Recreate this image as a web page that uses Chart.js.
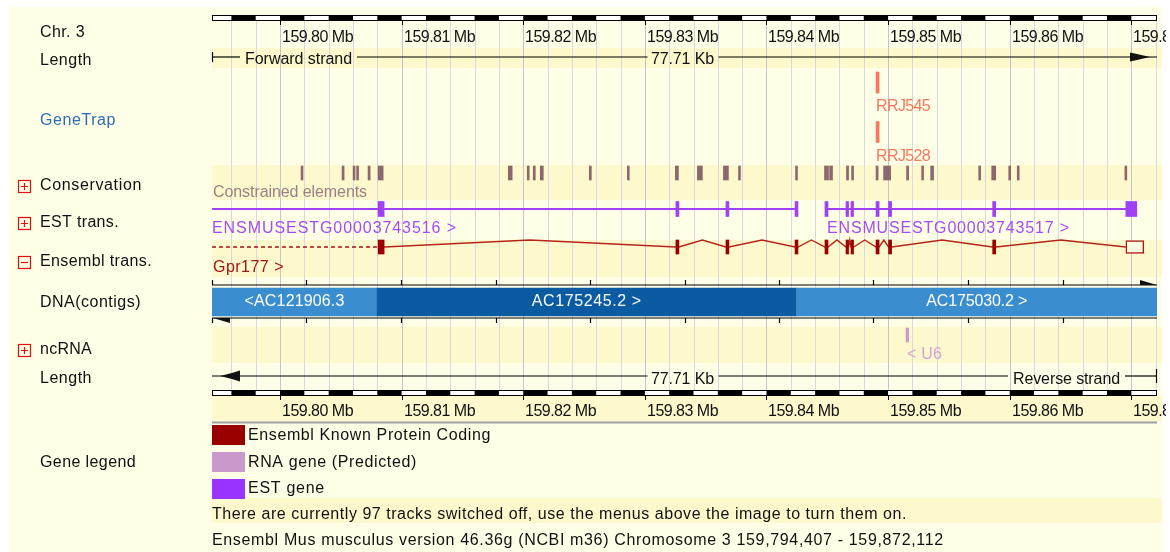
<!DOCTYPE html>
<html>
<head>
<meta charset="utf-8">
<script src="https://cdn.jsdelivr.net/npm/chart.js@4.4.1/dist/chart.umd.min.js"></script>
<style>
  html, body { margin: 0; padding: 0; background: #fff; }
  canvas { display: block; }
</style>
</head>
<body>
<canvas id="genome" width="1170" height="552"></canvas>
<script>
// region on chromosome 3, in Mb
var regionStart = 159.794407;
var regionEnd = 159.872112;

var rulerTicks = [159.80, 159.81, 159.82, 159.83, 159.84, 159.85, 159.86, 159.87];
var rulerLabels = ["159.80 Mb", "159.81 Mb", "159.82 Mb", "159.83 Mb", "159.84 Mb", "159.85 Mb", "159.86 Mb", "159.87 Mb"];

var trackLabels = ["Chr. 3", "Length", "GeneTrap", "Conservation", "EST trans.", "Ensembl trans.", "DNA(contigs)", "ncRNA", "Length", "Gene legend"];
var trackToggles = ["", "", "", "+", "+", "-", "", "+", "", ""];

var geneTrapNames = ["RRJ545", "RRJ528"];
var geneTrapStarts = [159.84901, 159.84901];
var geneTrapEnds = [159.84926, 159.84926];

var constrainedStarts = [159.80173, 159.80510, 159.80601, 159.80630, 159.80724, 159.80807, 159.81877, 159.82033, 159.82082, 159.82140,
  159.82543, 159.82856, 159.83251, 159.83432, 159.83646, 159.83770, 159.84239, 159.84477, 159.84519, 159.84658,
  159.84700, 159.84901, 159.84963, 159.85152, 159.85276, 159.85350, 159.85745, 159.85852, 159.85992, 159.86062, 159.86947];
var constrainedEnds = [159.80189, 159.80527, 159.80617, 159.80646, 159.80741, 159.80848, 159.81909, 159.82049, 159.82099, 159.82165,
  159.82560, 159.82872, 159.83276, 159.83473, 159.83687, 159.83786, 159.84255, 159.84510, 159.84543, 159.84675,
  159.84716, 159.84918, 159.85021, 159.85169, 159.85292, 159.85374, 159.85761, 159.85885, 159.86008, 159.86078, 159.86963];

var estNames = ["ENSMUSESTG00003743516 >", "ENSMUSESTG00003743517 >"];
var est516Starts = [159.80807, 159.83255, 159.83667, 159.84235];
var est516Ends = [159.80856, 159.83280, 159.83691, 159.84259];
var est517Starts = [159.84481, 159.84654, 159.84695, 159.84901, 159.85004, 159.85860, 159.86955];
var est517Ends = [159.84506, 159.84675, 159.84716, 159.84926, 159.85029, 159.85885, 159.87045];

var ensemblName = "Gpr177 >";
var ensemblExonStarts = [159.80807, 159.83255, 159.83667, 159.84235, 159.84481, 159.84654, 159.84695, 159.84901, 159.85004, 159.85860];
var ensemblExonEnds = [159.80856, 159.83280, 159.83691, 159.84259, 159.84506, 159.84675, 159.84716, 159.84926, 159.85029, 159.85885];
var ensemblUtrStart = 159.86955;
var ensemblUtrEnd = 159.87103;

var contigNames = ["<AC121906.3", "AC175245.2 >", "AC175030.2 >"];
var contigStarts = [159.794407, 159.807984, 159.842469];
var contigEnds = [159.807984, 159.842469, 159.872112];

var ncrnaName = "< U6";
var ncrnaStart = 159.85148;
var ncrnaEnd = 159.85169;

var legendNames = ["Ensembl Known Protein Coding", "RNA gene (Predicted)", "EST gene"];
var legendColors = ["#990000", "#cc99cc", "#9933ff"];

var footerLines = [
  "There are currently 97 tracks switched off, use the menus above the image to turn them on.",
  "Ensembl Mus musculus version 46.36g (NCBI m36) Chromosome 3 159,794,407 - 159,872,112"
];

// layout (pixels) and styling
var layout = {
  panelLeft: 9, panelTop: 7, panelRight: 1162, labelClip: 1166,
  labelX: 40, boxX: 18,
  labelRows: [33, 61, 121, 186, 223, 262, 303, 350, 379, 463],
  labelWidths: [45, 52, 76, 102, 79, 112, 101, 52, 52, 96],
  rulerTop: 15, rulerBottom: 390, rulerH: 6,
  tickLabelTop: 38, tickLabelBottom: 412,
  lengthTop: 57, lengthBottom: 376,
  geneTrapRows: [82.5, 132], geneTrapLabelRows: [107, 157],
  conservation: 173, constrainedLabel: 193,
  est: 209, estLabel: 229,
  ensembl: 247, ensemblPeak: 240, ensemblLabel: 268,
  contig: 302, strandTop: 285, strandBottom: 318,
  ncrna: 335, ncrnaLabel: 355,
  stripes: [[48, 68], [165, 200], [240, 277], [327, 363], [396, 421], [498, 523]],
  legendBoxes: [425, 452, 479], legendRows: [436, 463, 489],
  footerRows: [515, 541]
};

var FONT = '"Liberation Sans", Arial, sans-serif';

function bars(starts, ends, row) {
  return starts.map(function (s, i) { return { x: [s, ends[i]], y: row }; });
}

function hatPoints(starts, ends, base, peak) {
  var pts = [];
  for (var i = 0; i < starts.length - 1; i++) {
    pts.push({ x: ends[i], y: base });
    pts.push({ x: (ends[i] + starts[i + 1]) / 2, y: peak });
    pts.push({ x: starts[i + 1], y: base });
  }
  return pts;
}

function fitText(ctx, text, x, y, w, align) {
  ctx.save();
  if ("letterSpacing" in ctx) ctx.letterSpacing = "0px";
  var m = ctx.measureText(text).width;
  var left = align === "center" ? x - w / 2 : x;
  ctx.textAlign = "left";
  if ("letterSpacing" in ctx) {
    var sp = Math.max(-1, Math.min(4, (w - m) / text.length));
    ctx.letterSpacing = sp.toFixed(2) + "px";
    ctx.fillText(text, left, y);
  } else {
    ctx.translate(left, y);
    ctx.scale(w / m, 1);
    ctx.fillText(text, 0, 0);
  }
  ctx.restore();
}

var allEnsemblStarts = ensemblExonStarts.concat([ensemblUtrStart]);
var allEnsemblEnds = ensemblExonEnds.concat([ensemblUtrEnd]);

var backdrop = {
  id: "backdrop",
  beforeDraw: function (chart) {
    var c = chart.ctx, x = chart.scales.x, a = chart.chartArea;
    c.save();
    c.fillStyle = "#ffffff";
    c.fillRect(0, 0, chart.width, chart.height);
    c.fillStyle = "#fffee6";
    c.fillRect(layout.panelLeft, layout.panelTop, layout.panelRight - layout.panelLeft, chart.height - layout.panelTop);
    c.fillStyle = "#fdf9cc";
    layout.stripes.forEach(function (s) {
      c.fillRect(a.left, s[0], layout.panelRight - a.left, s[1] - s[0]);
    });
    // grid every 2 kb
    for (var k = 159796; k <= 159872; k += 2) {
      var px = Math.round(x.getPixelForValue(k / 1000)) + 0.5;
      c.strokeStyle = k % 10 === 0 ? "#c4c4cc" : "#d8d8de";
      c.lineWidth = 1;
      c.beginPath();
      c.moveTo(px, layout.rulerTop + layout.rulerH);
      c.lineTo(px, layout.rulerBottom);
      c.stroke();
    }
    c.restore();
  },
  afterDatasetsDraw: function (chart) {
    var c = chart.ctx, x = chart.scales.x, a = chart.chartArea;
    var L = a.left, R = a.right;
    var ink = "#111111";
    c.save();
    c.font = "16px " + FONT;
    c.textBaseline = "middle";

    // rulers
    [layout.rulerTop, layout.rulerBottom].forEach(function (top, r) {
      c.fillStyle = "#ffffff";
      c.fillRect(L, top, R - L, layout.rulerH);
      c.fillStyle = "#000000";
      for (var k = 159794; k < 159872; k += 2) {
        if ((k / 2) % 2 !== 0) continue;
        var x1 = Math.max(L, x.getPixelForValue(k / 1000));
        var x2 = Math.min(R, x.getPixelForValue((k + 2) / 1000));
        c.fillRect(x1, top, x2 - x1, layout.rulerH);
      }
      c.strokeStyle = "#000";
      c.lineWidth = 1;
      c.strokeRect(L + 0.5, top + 0.5, R - L - 1, layout.rulerH - 1);
      var labelY = r === 0 ? layout.tickLabelTop : layout.tickLabelBottom;
      c.save();
      c.beginPath();
      c.rect(0, 0, layout.labelClip, chart.height);
      c.clip();
      rulerTicks.forEach(function (t, i) {
        var px = Math.round(x.getPixelForValue(t)) + 0.5;
        c.beginPath();
        c.moveTo(px, top + layout.rulerH);
        c.lineTo(px, top + layout.rulerH + 4);
        c.stroke();
        c.fillStyle = ink;
        fitText(c, rulerLabels[i], px + 1.5, labelY, 71, "left");
      });
      c.restore();
    });

    // length rows
    var mid = x.getPixelForValue((regionStart + regionEnd) / 2);
    c.strokeStyle = "#000";
    c.fillStyle = ink;
    c.lineWidth = 1.2;
    function hline(y, x1, x2) { c.beginPath(); c.moveTo(x1, y); c.lineTo(x2, y); c.stroke(); }
    var yT = layout.lengthTop;
    hline(yT, L, 240); hline(yT, 357, mid - 37); hline(yT, mid + 34, R);
    c.beginPath(); c.moveTo(L + 0.5, yT - 5); c.lineTo(L + 0.5, yT + 5); c.stroke();
    c.beginPath();
    c.moveTo(R - 27, yT - 4.5); c.lineTo(R - 20, yT - 3); c.lineTo(R - 7, yT);
    c.lineTo(R - 20, yT + 3); c.lineTo(R - 27, yT + 4.5); c.closePath(); c.fill();
    fitText(c, "Forward strand", 245, yT + 3, 107, "left");
    fitText(c, "77.71 Kb", mid - 2, yT + 3, 63, "center");

    var yB = layout.lengthBottom;
    hline(yB, L, mid - 37); hline(yB, mid + 34, 1008); hline(yB, 1125, R);
    c.beginPath(); c.moveTo(R - 0.5, yB - 7); c.lineTo(R - 0.5, yB + 7); c.stroke();
    c.beginPath();
    c.moveTo(L + 28, yB - 5.5); c.lineTo(L + 28, yB + 5.5); c.lineTo(L + 20, yB + 3);
    c.lineTo(L + 8, yB); c.lineTo(L + 20, yB - 3); c.closePath(); c.fill();
    fitText(c, "77.71 Kb", mid - 2, yB + 4, 63, "center");
    fitText(c, "Reverse strand", 1013, yB + 4, 107, "left");

    // contig strand lines
    c.lineWidth = 1.2;
    hline(layout.strandTop, L, R);
    hline(layout.strandBottom, L, R);
    for (var k = 0; k < 10; k++) {
      var tx = Math.round(x.getPixelForValue(regionStart + k * (regionEnd - regionStart) / 10)) + 0.5;
      c.beginPath(); c.moveTo(tx, layout.strandTop - 5); c.lineTo(tx, layout.strandTop); c.stroke();
      c.beginPath(); c.moveTo(tx, layout.strandBottom); c.lineTo(tx, layout.strandBottom + 5); c.stroke();
    }
    c.beginPath();
    c.moveTo(R - 17, layout.strandTop - 5); c.lineTo(R, layout.strandTop); c.lineTo(R - 17, layout.strandTop); c.closePath(); c.fill();
    c.beginPath();
    c.moveTo(L + 1, layout.strandBottom); c.lineTo(L + 18, layout.strandBottom); c.lineTo(L + 18, layout.strandBottom + 5); c.closePath(); c.fill();

    // feature labels
    c.fillStyle = "#f47a62";
    geneTrapNames.forEach(function (n, i) {
      fitText(c, n, x.getPixelForValue(geneTrapStarts[i]), layout.geneTrapLabelRows[i], 54, "left");
    });
    c.fillStyle = "#9c8088";
    fitText(c, "Constrained elements", L + 1, layout.constrainedLabel, 154, "left");
    c.fillStyle = "#a54cf7";
    fitText(c, estNames[0], L, layout.estLabel, 245, "left");
    fitText(c, estNames[1], x.getPixelForValue(est517Starts[0]) + 2, layout.estLabel, 243, "left");
    c.fillStyle = "#a01414";
    fitText(c, ensemblName, L + 1, layout.ensemblLabel, 71, "left");
    c.fillStyle = "#ffffff";
    contigNames.forEach(function (n, i) {
      var cx = x.getPixelForValue((contigStarts[i] + contigEnds[i]) / 2);
      fitText(c, n, cx, layout.contig, [100, 110, 101][i], "center");
    });
    c.fillStyle = "#d8a2d8";
    fitText(c, ncrnaName, x.getPixelForValue(ncrnaStart) + 1, layout.ncrnaLabel, 35, "left");

    // left track labels
    trackLabels.forEach(function (t, i) {
      var y = layout.labelRows[i];
      c.fillStyle = t === "GeneTrap" ? "#2e6db4" : ink;
      fitText(c, t, layout.labelX, y, layout.labelWidths[i], "left");
      var tg = trackToggles[i];
      if (tg) {
        c.strokeStyle = "#e01010";
        c.lineWidth = 1.2;
        c.strokeRect(layout.boxX + 0.5, y - 5.5, 12, 12);
        c.beginPath();
        c.moveTo(layout.boxX + 3, y + 0.5); c.lineTo(layout.boxX + 10, y + 0.5);
        if (tg === "+") { c.moveTo(layout.boxX + 6.5, y - 3); c.lineTo(layout.boxX + 6.5, y + 4); }
        c.stroke();
      }
    });

    // legend
    c.strokeStyle = "#a0a0a0";
    c.lineWidth = 2;
    hline(422.5, L, R);
    legendNames.forEach(function (n, i) {
      c.fillStyle = legendColors[i];
      c.fillRect(L, layout.legendBoxes[i], 33, 20);
      c.fillStyle = ink;
      fitText(c, n, L + 36, layout.legendRows[i], [243, 169, 77][i], "left");
    });
    footerLines.forEach(function (t, i) {
      fitText(c, t, L, layout.footerRows[i], [695, 732][i], "left");
    });
    c.restore();
  }
};

var barBase = { type: "bar", indexAxis: "y", grouped: false, borderWidth: 0, borderSkipped: false };

var genomeChart = new Chart(document.getElementById("genome").getContext("2d"), {
  type: "bar",
  data: {
    datasets: [
      Object.assign({}, barBase, {
        label: "EST exons",
        data: bars(est516Starts.concat(est517Starts), est516Ends.concat(est517Ends), layout.est),
        backgroundColor: "#a040f8", barThickness: 15
      }),
      Object.assign({}, barBase, {
        label: "Ensembl exons",
        data: bars(ensemblExonStarts, ensemblExonEnds, layout.ensembl),
        backgroundColor: "#990000", barThickness: 14
      }),
      Object.assign({}, barBase, {
        label: "Ensembl UTR",
        data: bars([ensemblUtrStart], [ensemblUtrEnd], layout.ensembl),
        backgroundColor: "#fffde0", borderColor: "#a81a1a", borderWidth: 1.5, barThickness: 13
      }),
      Object.assign({}, barBase, {
        label: "Constrained elements",
        data: bars(constrainedStarts, constrainedEnds, layout.conservation),
        backgroundColor: "#8b6870", barThickness: 14
      }),
      Object.assign({}, barBase, {
        label: "GeneTrap",
        data: geneTrapStarts.map(function (s, i) { return { x: [s, geneTrapEnds[i]], y: layout.geneTrapRows[i] }; }),
        backgroundColor: "#f47a62", barThickness: 21
      }),
      Object.assign({}, barBase, {
        label: "ncRNA",
        data: bars([ncrnaStart], [ncrnaEnd], layout.ncrna),
        backgroundColor: "#cc99cc", barThickness: 14
      }),
      Object.assign({}, barBase, {
        label: "Contigs",
        data: bars(contigStarts, contigEnds, layout.contig),
        backgroundColor: ["#3a8dcf", "#0b5ba3", "#3a8dcf"], barThickness: 28
      }),
      {
        type: "line", label: "EST 516",
        data: [{ x: regionStart, y: layout.est }, { x: est516Ends[est516Ends.length - 1], y: layout.est }],
        borderColor: "#a040f8", borderWidth: 2, pointRadius: 0
      },
      {
        type: "line", label: "EST 517",
        data: [{ x: est517Starts[0], y: layout.est }, { x: est517Ends[est517Ends.length - 1], y: layout.est }],
        borderColor: "#a040f8", borderWidth: 2, pointRadius: 0
      },
      {
        type: "line", label: "Gpr177 introns",
        data: hatPoints(allEnsemblStarts, allEnsemblEnds, layout.ensembl, layout.ensemblPeak),
        borderColor: "#b5241c", borderWidth: 1.4, pointRadius: 0, tension: 0
      },
      {
        type: "line", label: "Gpr177 upstream",
        data: [{ x: regionStart, y: layout.ensembl }, { x: allEnsemblStarts[0], y: layout.ensembl }],
        borderColor: "#a01414", borderWidth: 1.4, borderDash: [4, 3], pointRadius: 0
      }
    ]
  },
  options: {
    responsive: false,
    devicePixelRatio: 1,
    animation: false,
    events: [],
    layout: { padding: { left: 212, right: 13, top: 0, bottom: 0 } },
    scales: {
      x: { type: "linear", min: regionStart, max: regionEnd, offset: false, display: false },
      y: { type: "linear", min: 0, max: 552, reverse: true, offset: false, display: false }
    },
    plugins: { legend: { display: false }, tooltip: { enabled: false } }
  },
  plugins: [backdrop]
});
</script>
</body>
</html>
